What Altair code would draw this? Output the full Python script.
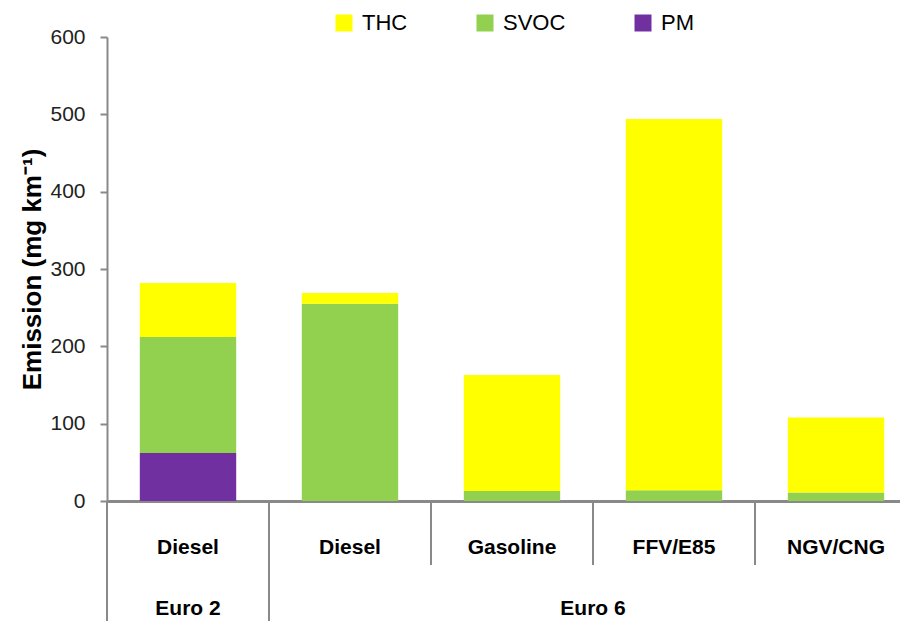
import altair as alt
import pandas as pd

# ---- data ----
groups = ["Euro 2", "Euro 6", "Euro 6", "Euro 6", "Euro 6"]
fuels = ["Diesel", "Diesel", "Gasoline", "FFV/E85", "NGV/CNG"]
pm = [62, 0, 0, 0, 0]
svoc = [150, 255, 13, 14, 11]
thc = [70, 14, 150, 480, 97]
species = ["THC", "SVOC", "PM"]
colors = ["#FFFF00", "#92D050", "#7030A0"]
y_ticks = [0, 100, 200, 300, 400, 500, 600]

keys = [f"{g}|{f}" for g, f in zip(groups, fuels)]
rows = []
for k, p, s, t in zip(keys, pm, svoc, thc):
    rows.append(dict(key=k, species="PM", value=p, order=0))
    rows.append(dict(key=k, species="SVOC", value=s, order=1))
    rows.append(dict(key=k, species="THC", value=t, order=2))
df = pd.DataFrame(rows)

# divider lines: group boundaries run to the bottom, sub-category ones are short
first_of_group = [i == 0 or groups[i] != groups[i - 1] for i in range(len(keys))]
div_long = pd.DataFrame({"key": [k for k, f in zip(keys, first_of_group) if f]})
div_short = pd.DataFrame({"key": [k for k, f in zip(keys, first_of_group) if not f]})

# group labels
g_names = []
for g in groups:
    if g not in g_names:
        g_names.append(g)
g_single = pd.DataFrame({"key": [keys[groups.index(g)] for g in g_names if groups.count(g) == 1],
                         "label": [g for g in g_names if groups.count(g) == 1]})
g_multi_rows = []
for g in g_names:
    idx = [i for i, gg in enumerate(groups) if gg == g]
    if len(idx) > 1 and len(idx) % 2 == 0:
        g_multi_rows.append(dict(key=keys[idx[len(idx) // 2]], label=g))
g_multi = pd.DataFrame(g_multi_rows)

W, H = 793, 464
BOTTOM = 120
FONT = "Liberation Sans"
GRAY = "#898989"

xscale = alt.Scale(domain=keys, range=[0, 810], paddingInner=0, paddingOuter=0)

bars = alt.Chart(df).mark_bar(width=alt.RelativeBandSize(0.595)).encode(
    x=alt.X("key:N", scale=xscale, sort=keys,
            axis=alt.Axis(title=None, labelExpr="split(datum.value, '|')[1]",
                          labelAngle=0, ticks=False, domainColor=GRAY, domainWidth=3,
                          labelFont=FONT, labelFontWeight="bold", labelFontSize=21,
                          labelColor="#000000", labelPadding=52, labelBaseline="alphabetic")),
    y=alt.Y("value:Q", stack="zero",
            scale=alt.Scale(domain=[0, 600], nice=False),
            axis=alt.Axis(values=y_ticks, title="Emission  (mg km⁻¹)", grid=False,
                          domainColor=GRAY, domainWidth=2, tickColor=GRAY, tickWidth=2,
                          tickSize=7, labelPadding=15, labelFont=FONT, labelFontSize=21,
                          labelColor="#222222", titleFont=FONT,
                          titleFontWeight="bold", titleFontSize=26, titleColor="#000000",
                          titleAngle=270, titleX=-75, titleY=232, titleBaseline="middle",
                          titleAlign="center")),
    color=alt.Color("species:N", scale=alt.Scale(domain=species, range=colors),
                    legend=alt.Legend(title=None, orient="none", legendX=226, legendY=-25,
                                      direction="horizontal", symbolType="square",
                                      symbolSize=289, symbolStrokeWidth=0,
                                      labelFont=FONT, labelFontSize=22, labelColor="#000000",
                                      labelOffset=7, columnPadding=66, padding=0)),
    order=alt.Order("order:Q", sort="ascending"),
)

rules_long = alt.Chart(div_long).mark_rule(color=GRAY, strokeWidth=2).encode(
    x=alt.X("key:N", scale=xscale, sort=keys, bandPosition=0),
    y=alt.value(H), y2=alt.value(H + BOTTOM),
)
rules_short = alt.Chart(div_short).mark_rule(color=GRAY, strokeWidth=2).encode(
    x=alt.X("key:N", scale=xscale, sort=keys, bandPosition=0),
    y=alt.value(H), y2=alt.value(H + 64),
)

text_single = alt.Chart(g_single).mark_text(font=FONT, fontWeight="bold", fontSize=21,
                                            color="#000000", baseline="alphabetic").encode(
    x=alt.X("key:N", scale=xscale, sort=keys, bandPosition=0.5),
    y=alt.value(H + BOTTOM - 6), text="label:N",
)
text_multi = alt.Chart(g_multi).mark_text(font=FONT, fontWeight="bold", fontSize=21,
                                          color="#000000", baseline="alphabetic").encode(
    x=alt.X("key:N", scale=xscale, sort=keys, bandPosition=0),
    y=alt.value(H + BOTTOM - 6), text="label:N",
)

chart = alt.layer(bars, rules_long, rules_short, text_single, text_multi).properties(
    width=W, height=H,
    autosize=alt.AutoSizeParams(type="none"),
    padding={"left": 99, "top": 29, "right": 0, "bottom": BOTTOM},
    background="white",
).configure_view(stroke=None)

chart.save("out.html", embed_options={"renderer": "svg", "actions": False})
